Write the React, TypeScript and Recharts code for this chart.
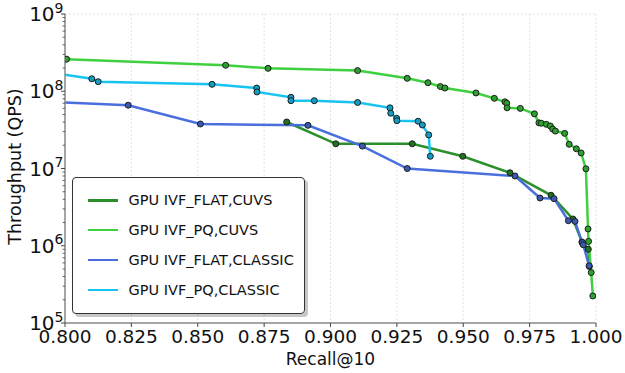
import React from 'react';
import { LineChart, Line, XAxis, YAxis, CartesianGrid, Label } from 'recharts';

const FONT = '"DejaVu Sans", Verdana, sans-serif';

// Axis ticks
const xTicks = [0.8, 0.825, 0.85, 0.875, 0.9, 0.925, 0.95, 0.975, 1.0];
const xTickLabels = ['0.800', '0.825', '0.850', '0.875', '0.900', '0.925', '0.950', '0.975', '1.000'];
const yMajor = [1e5, 1e6, 1e7, 1e8, 1e9];
const yExponents = ['5', '6', '7', '8', '9'];
const yMinorMultipliers = [2, 3, 4, 5, 6, 7, 8, 9];
const yAllTicks: number[] = [];
yMajor.forEach((d, i) => {
  yAllTicks.push(d);
  if (i < yMajor.length - 1) yMinorMultipliers.forEach((m) => yAllTicks.push(m * d));
});

// Series: GPU IVF_FLAT,CUVS
const flatCuvsRecall = [0.8835, 0.902, 0.9308, 0.9498, 0.9676, 0.9831, 0.9913, 0.9947, 0.9971, 0.9975];
const flatCuvsQps = [4.0e7, 2.09e7, 2.09e7, 1.44e7, 8.8e6, 4.5e6, 2.22e6, 1.12e6, 9.0e5, 5.4e5];

// Series: GPU IVF_PQ,CUVS
const pqCuvsRecall = [
  0.8006, 0.8605, 0.8765, 0.9102, 0.9289, 0.9367, 0.9414, 0.9431, 0.9548, 0.9617,
  0.9657, 0.9664, 0.9665, 0.9715, 0.9768, 0.9785, 0.9794, 0.9813, 0.9828, 0.9837,
  0.9847, 0.9882, 0.9899, 0.9926, 0.9944, 0.9962, 0.997, 0.9972, 0.9982, 0.9988,
];
const pqCuvsQps = [
  2.6e8, 2.17e8, 1.98e8, 1.85e8, 1.47e8, 1.29e8, 1.15e8, 1.1e8, 9.5e7, 8.1e7,
  7.3e7, 7.0e7, 6.1e7, 6.0e7, 5.1e7, 3.9e7, 3.85e7, 3.73e7, 3.55e7, 3.24e7,
  3.05e7, 2.85e7, 2.06e7, 1.8e7, 1.59e7, 9.9e6, 1.65e6, 1.14e6, 4.5e5, 2.24e5,
];

// Series: GPU IVF_FLAT,CLASSIC
const flatClassicRecall = [0.79, 0.8238, 0.851, 0.8915, 0.912, 0.9289, 0.9695, 0.9789, 0.9842, 0.9896, 0.9921, 0.9948, 0.9952, 0.9974];
const flatClassicQps = [7.4e7, 6.6e7, 3.77e7, 3.62e7, 1.95e7, 1.0e7, 8.0e6, 4.15e6, 4.07e6, 2.11e6, 2.07e6, 1.1e6, 1.03e6, 5.5e5];

// Series: GPU IVF_PQ,CLASSIC
const pqClassicRecall = [0.79, 0.8101, 0.8125, 0.8554, 0.8722, 0.8723, 0.8851, 0.8851, 0.8939, 0.9102, 0.9224, 0.9227, 0.9249, 0.925, 0.933, 0.9346, 0.937, 0.9376];
const pqClassicQps = [1.84e8, 1.45e8, 1.33e8, 1.23e8, 1.1e8, 9.8e7, 8.35e7, 7.55e7, 7.55e7, 7.15e7, 6.1e7, 5.2e7, 4.47e7, 4.16e7, 4.09e7, 3.66e7, 2.72e7, 1.44e7];

const seriesNames = ['GPU IVF_FLAT,CUVS', 'GPU IVF_PQ,CUVS', 'GPU IVF_FLAT,CLASSIC', 'GPU IVF_PQ,CLASSIC'];
const seriesColors = ['#2b8f2b', '#3fd03f', '#4a6fdc', '#18c3f0'];
const markerColors = ['#227022', '#2f9f32', '#3a58b8', '#149cc4'];
const seriesRecall = [flatCuvsRecall, pqCuvsRecall, flatClassicRecall, pqClassicRecall];
const seriesQps = [flatCuvsQps, pqCuvsQps, flatClassicQps, pqClassicQps];

const seriesData = seriesRecall.map((rs, i) => rs.map((r, j) => ({ r, q: seriesQps[i][j] })));

const SPINE = '#8a8a8a';
const TICK = '#444';

const YTick = (props: any) => {
  const { x, y, payload } = props;
  const v = payload.value;
  const idx = yMajor.indexOf(v);
  if (idx < 0) {
    return <line x1={x - 2.5} x2={x} y1={y} y2={y} stroke={TICK} strokeWidth={0.8} />;
  }
  return (
    <g>
      <line x1={x - 4} x2={x} y1={y} y2={y} stroke={TICK} strokeWidth={1} />
      <text x={x - 1.5} y={y + 7} textAnchor="end" fontFamily={FONT} fontSize={20} fill="#111">
        10
        <tspan dy={-8.5} fontSize={14}>{yExponents[idx]}</tspan>
      </text>
    </g>
  );
};

const XTick = (props: any) => {
  const { x, y, payload } = props;
  const idx = xTicks.findIndex((t) => Math.abs(t - payload.value) < 1e-9);
  return (
    <g>
      <line x1={x} x2={x} y1={y} y2={y + 4} stroke={TICK} strokeWidth={1} />
      <text x={x} y={y + 19.5} textAnchor="middle" fontFamily={FONT} fontSize={18.5} fill="#111">
        {idx >= 0 ? xTickLabels[idx] : payload.value}
      </text>
    </g>
  );
};

const YTitle = (props: any) => {
  const { x, y, height } = props.viewBox;
  const cx = x + 15;
  const cy = y + height / 2 - 2;
  return (
    <text x={cx} y={cy} transform={`rotate(-90 ${cx} ${cy})`} textAnchor="middle" dominantBaseline="central" fontFamily={FONT} fontSize={17.5} fill="#111">
      Throughput (QPS)
    </text>
  );
};

const XTitle = (props: any) => {
  const { x, y, width } = props.viewBox;
  return (
    <text x={x + width / 2} y={y + 42} textAnchor="middle" fontFamily={FONT} fontSize={17} fill="#111">
      Recall@10
    </text>
  );
};

const LegendBox = () => (
  <div
    style={{
      position: 'absolute',
      left: 71.5,
      top: 176.5,
      width: 231,
      height: 135,
      border: '1.5px solid #333',
      borderRadius: 4,
      background: 'rgba(255,255,255,0.9)',
      boxShadow: '3px 3px 0 rgba(0,0,0,0.22)',
      fontFamily: FONT,
      fontSize: 14.5,
      color: '#111',
    }}
  >
    {seriesNames.map((name, i) => (
      <div key={name} style={{ position: 'absolute', left: 0, top: 22.5 + i * 29.9 - 10, height: 20, width: '100%' }}>
        <div style={{ position: 'absolute', left: 15, top: 9, width: 30, height: 2.5, background: seriesColors[i] }} />
        <div style={{ position: 'absolute', left: 56, top: 0, lineHeight: '20px', whiteSpace: 'nowrap' }}>{name}</div>
      </div>
    ))}
  </div>
);

export default function App() {
  return (
    <div style={{ position: 'fixed', left: 0, top: 0, width: 625, height: 373, background: '#fff', overflow: 'hidden' }}>
      <LineChart width={625} height={373} margin={{ top: 14, right: 29, left: 0, bottom: 0 }}>
        <CartesianGrid yAxisId="frameR" xAxisId={0} stroke="#dcdcdc" strokeDasharray="2 2" strokeWidth={0.8} />
        <XAxis
          xAxisId={0}
          dataKey="r"
          type="number"
          domain={[0.8, 1.0]}
          ticks={xTicks}
          interval={0}
          allowDataOverflow
          height={50}
          tickSize={0}
          tickMargin={0}
          tick={<XTick />}
          axisLine={{ stroke: SPINE, strokeWidth: 1.5 }}
          tickLine={false}
        >
          <Label content={<XTitle />} />
        </XAxis>
        <XAxis
          xAxisId="frameT"
          orientation="top"
          type="number"
          domain={[0.8, 1.0]}
          height={0}
          tick={false}
          tickLine={false}
          axisLine={{ stroke: SPINE, strokeWidth: 1.5 }}
        />
        <YAxis
          yAxisId={0}
          dataKey="q"
          type="number"
          scale="log"
          domain={[1e5, 1e9]}
          ticks={yAllTicks}
          interval={0}
          allowDataOverflow
          width={65}
          tickSize={0}
          tickMargin={0}
          tick={<YTick />}
          axisLine={{ stroke: SPINE, strokeWidth: 1.5 }}
          tickLine={false}
        >
          <Label content={<YTitle />} />
        </YAxis>
        <YAxis
          yAxisId="frameR"
          orientation="right"
          type="number"
          scale="log"
          domain={[1e5, 1e9]}
          ticks={yMajor}
          interval={0}
          allowDataOverflow
          width={0}
          tick={false}
          tickLine={false}
          axisLine={{ stroke: SPINE, strokeWidth: 1.5 }}
        />
        {seriesData.map((d, i) => (
          <Line
            key={seriesNames[i]}
            data={d}
            dataKey="q"
            name={seriesNames[i]}
            xAxisId={0}
            yAxisId={0}
            type="linear"
            stroke={seriesColors[i]}
            strokeWidth={2.5}
            dot={{ r: 3, fill: markerColors[i], stroke: '#1a1f1a', strokeWidth: 1, fillOpacity: 1 }}
            activeDot={false}
            isAnimationActive={false}
          />
        ))}
      </LineChart>
      <LegendBox />
    </div>
  );
}
